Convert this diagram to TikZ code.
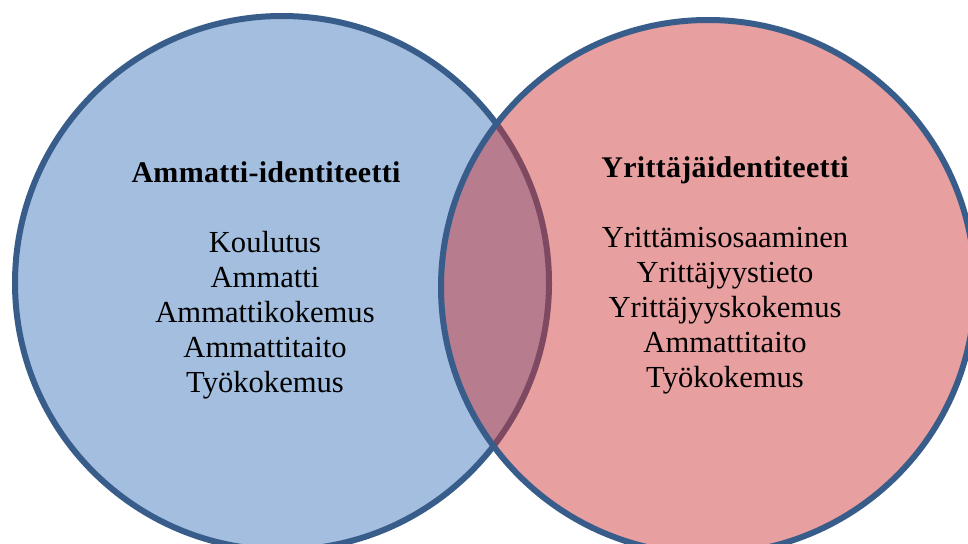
\documentclass[tikz,border=0pt]{standalone}
\usepackage{fontspec}
\setmainfont{Liberation Serif}
\newfontfamily\headfont[LetterSpace=1.0]{Liberation Serif}
\definecolor{vennstroke}{RGB}{56,93,138}
\definecolor{vennblue}{RGB}{163,190,223}
\definecolor{vennred}{RGB}{206,51,51}
\begin{document}
\begin{tikzpicture}[x=1pt,y=-1pt,
  ring/.style={draw=vennstroke,line width=6pt},
  headtxt/.style={anchor=base,inner sep=0pt,font=\headfont\bfseries\fontsize{30}{36}\selectfont},
  itemtxt/.style={anchor=base,inner sep=0pt,font=\fontsize{30.6}{36}\selectfont}]
\useasboundingbox (0,0) rectangle (968,543);
\clip (0,0) rectangle (968,543);
\coordinate (cl) at (282,283);
\coordinate (cr) at (708,287);
\fill[vennblue] (cl) circle[radius=267pt];
\draw[ring] (cl) circle[radius=267pt];
\fill[vennred,fill opacity=0.47] (cr) circle[radius=267pt];
\draw[ring] (cr) circle[radius=267pt];
% left texts
\node[headtxt] (lh) at (266,182) {Ammatti-identiteetti};
\node[itemtxt] (l1) at (265,252) {Koulutus};
\node[itemtxt] (l2) at (265,287) {Ammatti};
\node[itemtxt] (l3) at (265,322) {Ammattikokemus};
\node[itemtxt] (l4) at (265,357) {Ammattitaito};
\node[itemtxt] (l5) at (265,392) {Työkokemus};
% right texts
\node[headtxt] (rh) at (725,177) {Yrittäjäidentiteetti};
\node[itemtxt] (r1) at (725,247) {Yrittämisosaaminen};
\node[itemtxt] (r2) at (725,282) {Yrittäjyystieto};
\node[itemtxt] (r3) at (725,317) {Yrittäjyyskokemus};
\node[itemtxt] (r4) at (725,352) {Ammattitaito};
\node[itemtxt] (r5) at (725,387) {Työkokemus};
\end{tikzpicture}
\end{document}
